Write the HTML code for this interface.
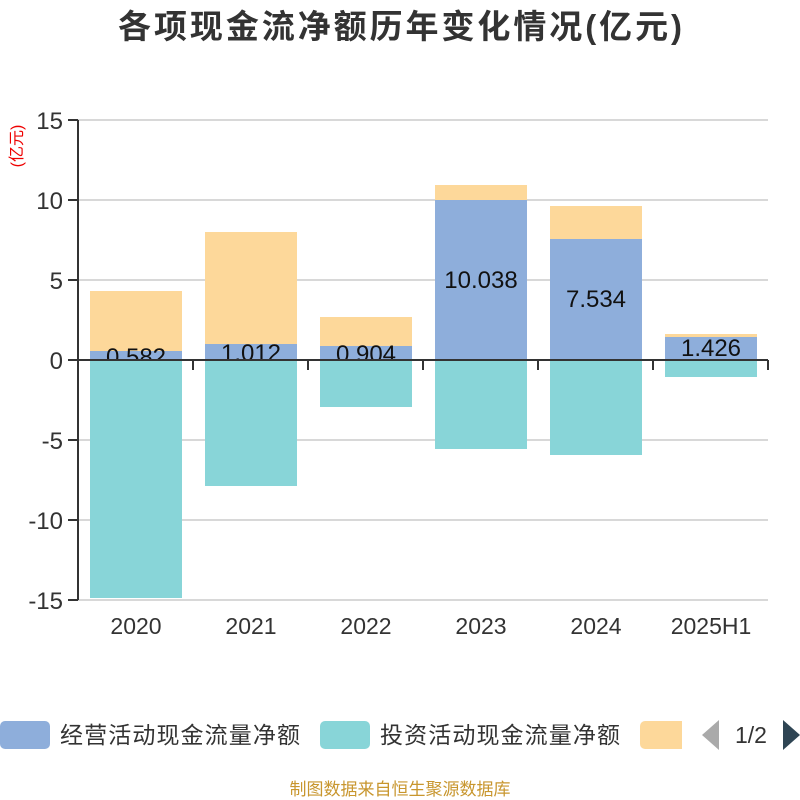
<!DOCTYPE html>
<html><head><meta charset="utf-8"><style>body{margin:0;background:#fff}svg{display:block}</style></head>
<body>
<svg width="800" height="800" xmlns="http://www.w3.org/2000/svg" font-family="Liberation Sans, Noto Sans CJK SC, sans-serif">
<text x="400" y="38" text-anchor="middle" font-size="33" font-weight="bold" fill="#333" textLength="564">各项现金流净额历年变化情况(亿元)</text>
<text transform="translate(22,146) rotate(-90)" text-anchor="middle" font-size="16" fill="#e00">(亿元)</text>
<g stroke="#ccc" stroke-width="1.5">
<line x1="78" y1="120" x2="768" y2="120"/><line x1="78" y1="200" x2="768" y2="200"/><line x1="78" y1="280" x2="768" y2="280"/>
<line x1="78" y1="440" x2="768" y2="440"/><line x1="78" y1="520" x2="768" y2="520"/><line x1="78" y1="600" x2="768" y2="600"/>
</g>
<g font-size="24" fill="#333" text-anchor="end">
<text x="63" y="129">15</text><text x="63" y="209">10</text><text x="63" y="289">5</text><text x="63" y="369">0</text>
<text x="63" y="449">-5</text><text x="63" y="529">-10</text><text x="63" y="609">-15</text>
</g>
<g fill="#fdd89a">
<rect x="90" y="291" width="92" height="60"/><rect x="205" y="232" width="92" height="112"/><rect x="320" y="317" width="92" height="29"/>
<rect x="435" y="185" width="92" height="15"/><rect x="550" y="206" width="92" height="33"/><rect x="665" y="334" width="92" height="3"/>
</g>
<g fill="#8eaedb">
<rect x="90" y="351" width="92" height="9"/><rect x="205" y="344" width="92" height="16"/><rect x="320" y="346" width="92" height="14"/>
<rect x="435" y="200" width="92" height="160"/><rect x="550" y="239" width="92" height="121"/><rect x="665" y="337" width="92" height="23"/>
</g>
<g font-size="24" fill="#111" text-anchor="middle">
<text x="136" y="365">0.582</text><text x="251" y="361">1.012</text><text x="366" y="362">0.904</text>
<text x="481" y="288">10.038</text><text x="596" y="307">7.534</text><text x="711" y="356">1.426</text>
</g>
<g fill="#88d5d8">
<rect x="90" y="360" width="92" height="238"/><rect x="205" y="360" width="92" height="126"/><rect x="320" y="360" width="92" height="47"/>
<rect x="435" y="360" width="92" height="89"/><rect x="550" y="360" width="92" height="95"/><rect x="665" y="360" width="92" height="17"/>
</g>
<g stroke="#333" stroke-width="2">
<line x1="78" y1="120" x2="78" y2="600"/>
<line x1="68" y1="120" x2="78" y2="120"/><line x1="68" y1="200" x2="78" y2="200"/><line x1="68" y1="280" x2="78" y2="280"/>
<line x1="68" y1="360" x2="78" y2="360"/><line x1="68" y1="440" x2="78" y2="440"/><line x1="68" y1="520" x2="78" y2="520"/><line x1="68" y1="600" x2="78" y2="600"/>
<line x1="78" y1="360" x2="768" y2="360"/>
<line x1="193" y1="360" x2="193" y2="370"/><line x1="308" y1="360" x2="308" y2="370"/><line x1="423" y1="360" x2="423" y2="370"/>
<line x1="538" y1="360" x2="538" y2="370"/><line x1="653" y1="360" x2="653" y2="370"/><line x1="768" y1="360" x2="768" y2="370"/>
</g>
<g font-size="23" fill="#333" text-anchor="middle">
<text x="136" y="634">2020</text><text x="251" y="634">2021</text><text x="366" y="634">2022</text>
<text x="481" y="634">2023</text><text x="596" y="634">2024</text><text x="711" y="634">2025H1</text>
</g>
<rect x="0" y="721" width="50" height="28" rx="5" fill="#8eaedb"/>
<text x="60" y="743" font-size="23" fill="#333" textLength="240">经营活动现金流量净额</text>
<rect x="320" y="721" width="50" height="28" rx="5" fill="#88d5d8"/>
<text x="380" y="743" font-size="23" fill="#333" textLength="240">投资活动现金流量净额</text>
<rect x="640" y="721" width="50" height="28" rx="5" fill="#fdd89a"/>
<rect x="682" y="715" width="20" height="40" fill="#fff"/>
<polygon points="702,735 719,720 719,750" fill="#aaa"/>
<text x="751" y="743" font-size="23" fill="#333" text-anchor="middle">1/2</text>
<polygon points="783,720 800,735 783,750" fill="#2f4554"/>
<text x="400" y="795" font-size="17" fill="#c8962e" text-anchor="middle">制图数据来自恒生聚源数据库</text>
</svg>
</body></html>
